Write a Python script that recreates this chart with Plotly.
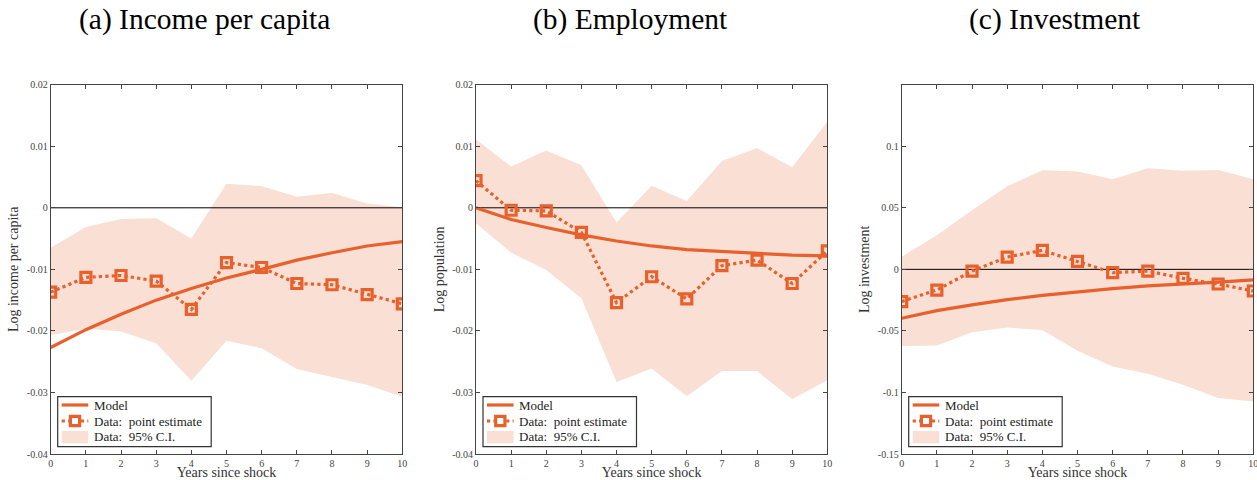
import plotly.graph_objects as go

# Horizon (years since shock)
years = list(range(11))

# (a) Income per capita
inc_model = [-0.0227, -0.0198, -0.0173, -0.0150, -0.0131, -0.0114, -0.0100, -0.0085, -0.0073, -0.0062, -0.0055]
inc_point = [-0.0137, -0.0113, -0.0110, -0.0119, -0.0165, -0.0089, -0.0097, -0.0123, -0.0125, -0.0141, -0.0156]
inc_upper = [-0.0065, -0.0031, -0.0018, -0.0017, -0.0050, 0.0039, 0.0035, 0.0018, 0.0024, 0.0007, 0.0001]
inc_lower = [-0.0207, -0.0196, -0.0201, -0.0220, -0.0281, -0.0216, -0.0228, -0.0262, -0.0275, -0.0288, -0.0307]

# (b) Employment
emp_model = [0.0, -0.0019, -0.0032, -0.0044, -0.0054, -0.0062, -0.0068, -0.0071, -0.0075, -0.0077, -0.0078]
emp_point = [0.0044, -0.0004, -0.0005, -0.0040, -0.0154, -0.0112, -0.0148, -0.0094, -0.0085, -0.0123, -0.0070]
emp_upper = [0.0111, 0.0067, 0.0093, 0.0069, -0.0024, 0.0036, 0.0011, 0.0076, 0.0097, 0.0066, 0.0140]
emp_lower = [-0.0025, -0.0073, -0.0101, -0.0147, -0.0283, -0.0261, -0.0306, -0.0265, -0.0265, -0.0311, -0.0280]

# (c) Investment
inv_model = [-0.0397, -0.0335, -0.0289, -0.0246, -0.0211, -0.0181, -0.0157, -0.0135, -0.0116, -0.0103, -0.0086]
inv_point = [-0.0262, -0.0168, -0.0014, 0.0100, 0.0154, 0.0065, -0.0027, -0.0014, -0.0073, -0.0119, -0.0176]
inv_upper = [0.0103, 0.0278, 0.0481, 0.0676, 0.0805, 0.0795, 0.0732, 0.0822, 0.0800, 0.0808, 0.0732]
inv_lower = [-0.0622, -0.0619, -0.0511, -0.0473, -0.0492, -0.0662, -0.0789, -0.0849, -0.0938, -0.1046, -0.1073]

# Tick labels
small_ticks = [-0.04, -0.03, -0.02, -0.01, 0, 0.01, 0.02]
small_ticktext = ["-0.04", "-0.03", "-0.02", "-0.01", "0", "0.01", "0.02"]
inv_ticks = [-0.15, -0.1, -0.05, 0, 0.05, 0.1]
inv_ticktext = ["-0.15", "-0.1", "-0.05", "0", "0.05", "0.1"]

titles = ["(a) Income per capita", "(b) Employment", "(c) Investment"]
ylabels = ["Log income per capita", "Log population", "Log investment"]
legend_labels = ["Model", "Data:  point estimate", "Data:  95% C.I."]

ORANGE = "#E8612C"
BAND = "#FADFD4"
SERIF = "Liberation Serif, Times New Roman, DejaVu Serif, serif"

panels = [
    (inc_model, inc_point, inc_upper, inc_lower, [-0.04, 0.02], small_ticks, small_ticktext),
    (emp_model, emp_point, emp_upper, emp_lower, [-0.04, 0.02], small_ticks, small_ticktext),
    (inv_model, inv_point, inv_upper, inv_lower, [-0.15, 0.15], inv_ticks, inv_ticktext),
]

W, H = 1257, 480
x_doms = [(50.7, 402.3), (476.0, 827.3), (901.7, 1253.3)]
y_dom = [(H - 454.0) / H, (H - 84.7) / H]
title_x = [204, 630, 1055]


def px(x):
    return x / W


def py(y):
    return 1 - y / H


fig = go.Figure()
shapes = []
annotations = []

for i, (model, point, upper, lower, yr, tv, tt) in enumerate(panels):
    n = "" if i == 0 else str(i + 1)
    xa, ya = "x" + n, "y" + n
    # confidence band
    fig.add_trace(go.Scatter(x=years, y=upper, mode="lines", line=dict(width=0, color=BAND),
                             showlegend=False, hoverinfo="skip", xaxis=xa, yaxis=ya))
    fig.add_trace(go.Scatter(x=years, y=lower, mode="lines", line=dict(width=0, color=BAND),
                             fill="tonexty", fillcolor=BAND, name=legend_labels[2],
                             showlegend=False, xaxis=xa, yaxis=ya))
    # zero reference line
    fig.add_trace(go.Scatter(x=[years[0], years[-1]], y=[0, 0], mode="lines",
                             line=dict(color="black", width=1), showlegend=False,
                             hoverinfo="skip", xaxis=xa, yaxis=ya))
    fig.add_trace(go.Scatter(x=years, y=model, mode="lines", name=legend_labels[0],
                             line=dict(color=ORANGE, width=3.2), showlegend=False,
                             xaxis=xa, yaxis=ya))
    fig.add_trace(go.Scatter(x=years, y=point, mode="lines+markers", name=legend_labels[1],
                             line=dict(color=ORANGE, width=3.2, dash="dot"),
                             marker=dict(symbol="square-open", size=10, color=ORANGE,
                                         line=dict(width=3.2, color=ORANGE)),
                             showlegend=False, xaxis=xa, yaxis=ya))

    x0, x1 = x_doms[i]
    axis_common = dict(showline=True, linecolor="#444444", linewidth=1, mirror="ticks",
                       ticks="inside", ticklen=4, tickcolor="#444444", showgrid=False,
                       zeroline=False, automargin=False, ticklabeloverflow="allow",
                       tickfont=dict(family=SERIF, size=10, color="#444444"))
    fig.layout["xaxis" + n] = dict(domain=[px(x0), px(x1)], range=[0, 10], anchor=ya,
                                   tickvals=years, ticktext=[str(v) for v in years],
                                   title=dict(text="Years since shock", standoff=6,
                                              font=dict(family=SERIF, size=14, color="#333333")),
                                   **axis_common)
    fig.layout["yaxis" + n] = dict(domain=y_dom, range=yr, anchor=xa,
                                   tickvals=tv, ticktext=tt,
                                   title=dict(text=ylabels[i], standoff=4,
                                              font=dict(family=SERIF, size=14, color="#333333")),
                                   **axis_common)

    # legend box drawn in paper space
    bx0, bx1 = x0 + 7, x0 + 160.5
    by0, by1 = 396.7, 446.7
    shapes.append(dict(type="rect", xref="paper", yref="paper",
                       x0=px(bx0), x1=px(bx1), y0=py(by1), y1=py(by0),
                       line=dict(color="#333333", width=1.2), fillcolor="white", layer="above"))
    gx0, gx1 = x0 + 11, x0 + 37.6
    rows = [405.0, 421.0, 436.7]
    # Model sample
    shapes.append(dict(type="line", xref="paper", yref="paper",
                       x0=px(gx0), x1=px(gx1), y0=py(rows[0]), y1=py(rows[0]),
                       line=dict(color=ORANGE, width=3.2), layer="above"))
    # point estimate sample
    shapes.append(dict(type="line", xref="paper", yref="paper",
                       x0=px(gx0), x1=px(gx1), y0=py(rows[1]), y1=py(rows[1]),
                       line=dict(color=ORANGE, width=3.2, dash="dot"), layer="above"))
    mc = (gx0 + gx1) / 2
    shapes.append(dict(type="rect", xref="paper", yref="paper",
                       x0=px(mc - 4.6), x1=px(mc + 4.6), y0=py(rows[1] + 4.6), y1=py(rows[1] - 4.6),
                       line=dict(color=ORANGE, width=3.2), fillcolor="white", layer="above"))
    # band sample
    shapes.append(dict(type="rect", xref="paper", yref="paper",
                       x0=px(gx0), x1=px(gx1), y0=py(443.3), y1=py(431.0),
                       line=dict(width=0), fillcolor=BAND, layer="above"))
    for lab, ry in zip(legend_labels, rows):
        annotations.append(dict(text=lab, x=px(x0 + 41), y=py(ry), xref="paper", yref="paper",
                                showarrow=False, xanchor="left", yanchor="middle",
                                font=dict(family=SERIF, size=13, color="#222222")))

    annotations.append(dict(text=titles[i], x=px(title_x[i]), y=py(20), xref="paper", yref="paper",
                            showarrow=False, xanchor="center", yanchor="middle",
                            font=dict(family=SERIF, size=29.5, color="black")))

fig.update_layout(width=W, height=H, margin=dict(l=0, r=0, t=0, b=0),
                  paper_bgcolor="white", plot_bgcolor="white", showlegend=False,
                  shapes=shapes, annotations=annotations)

fig.write_html("out.html")
